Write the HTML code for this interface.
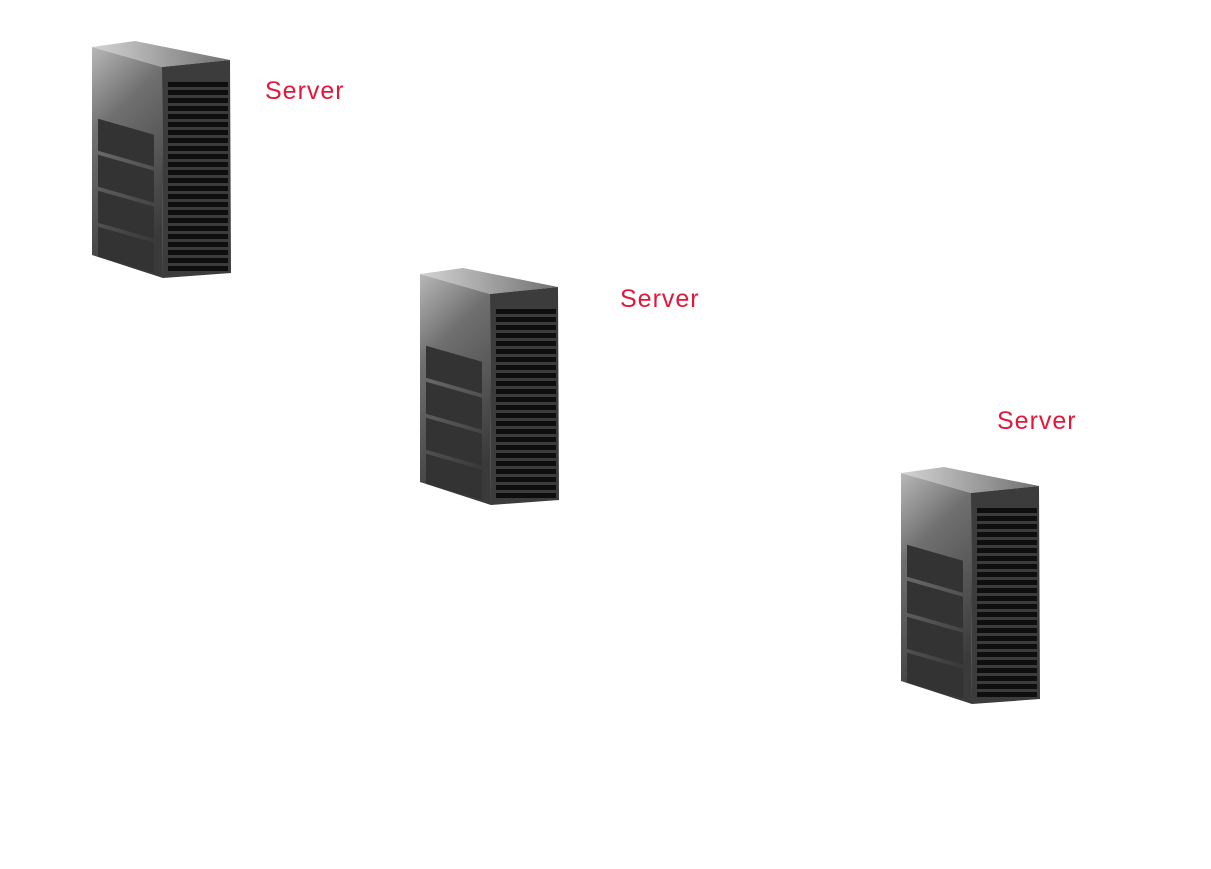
<!DOCTYPE html>
<html><head><style>
html,body{margin:0;padding:0;background:#fff;width:1211px;height:869px;overflow:hidden}
.l{position:absolute;font-family:"Liberation Sans",sans-serif;font-size:25px;color:#e2183a;letter-spacing:1px}
</style></head><body>
<svg width="1211" height="869" style="position:absolute;left:0;top:0">
<defs>
<linearGradient id="lg" x1="0" y1="0" x2="0.3" y2="1">
<stop offset="0" stop-color="#b8b8b8"/><stop offset="0.35" stop-color="#707070"/><stop offset="1" stop-color="#3a3a3a"/></linearGradient>
<linearGradient id="tg" x1="0" y1="0" x2="1" y2="0">
<stop offset="0" stop-color="#d4d4d4"/><stop offset="1" stop-color="#707070"/></linearGradient>
<g id="srv">
<polygon points="0,6 43,0 138,19 70,26" fill="url(#tg)"/>
<polygon points="0,6 70,26 71,237 0,214" fill="url(#lg)"/>
<polygon points="70,26 138,19 139,232 71,237" fill="#3c3c3c"/>
<g transform="matrix(1,0.286,0,1,0,0)">
<rect x="6" y="76" width="56" height="32" fill="#333"/>
<rect x="6" y="112" width="56" height="32" fill="#333"/>
<rect x="6" y="148" width="56" height="32" fill="#333"/>
<rect x="6" y="184" width="56" height="30" fill="#333"/>
</g>
<g fill="#0e0e0e">
<rect x="76" y="41" width="60" height="5"/><rect x="76" y="49" width="60" height="5"/>
<rect x="76" y="57" width="60" height="5"/><rect x="76" y="65" width="60" height="5"/>
<rect x="76" y="73" width="60" height="5"/><rect x="76" y="81" width="60" height="5"/>
<rect x="76" y="89" width="60" height="5"/><rect x="76" y="97" width="60" height="5"/>
<rect x="76" y="105" width="60" height="5"/><rect x="76" y="113" width="60" height="5"/>
<rect x="76" y="121" width="60" height="5"/><rect x="76" y="129" width="60" height="5"/>
<rect x="76" y="137" width="60" height="5"/><rect x="76" y="145" width="60" height="5"/>
<rect x="76" y="153" width="60" height="5"/><rect x="76" y="161" width="60" height="5"/>
<rect x="76" y="169" width="60" height="5"/><rect x="76" y="177" width="60" height="5"/>
<rect x="76" y="185" width="60" height="5"/><rect x="76" y="193" width="60" height="5"/>
<rect x="76" y="201" width="60" height="5"/><rect x="76" y="209" width="60" height="5"/>
<rect x="76" y="217" width="60" height="5"/><rect x="76" y="225" width="60" height="5"/>
</g>
</g>
</defs>
<use href="#srv" x="92" y="41"/>
<use href="#srv" x="420" y="268"/>
<use href="#srv" x="901" y="467"/>
</svg>
<div class="l" style="left:265px;top:77px">Server</div>
<div class="l" style="left:620px;top:285px">Server</div>
<div class="l" style="left:997px;top:407px">Server</div>
</body></html>
